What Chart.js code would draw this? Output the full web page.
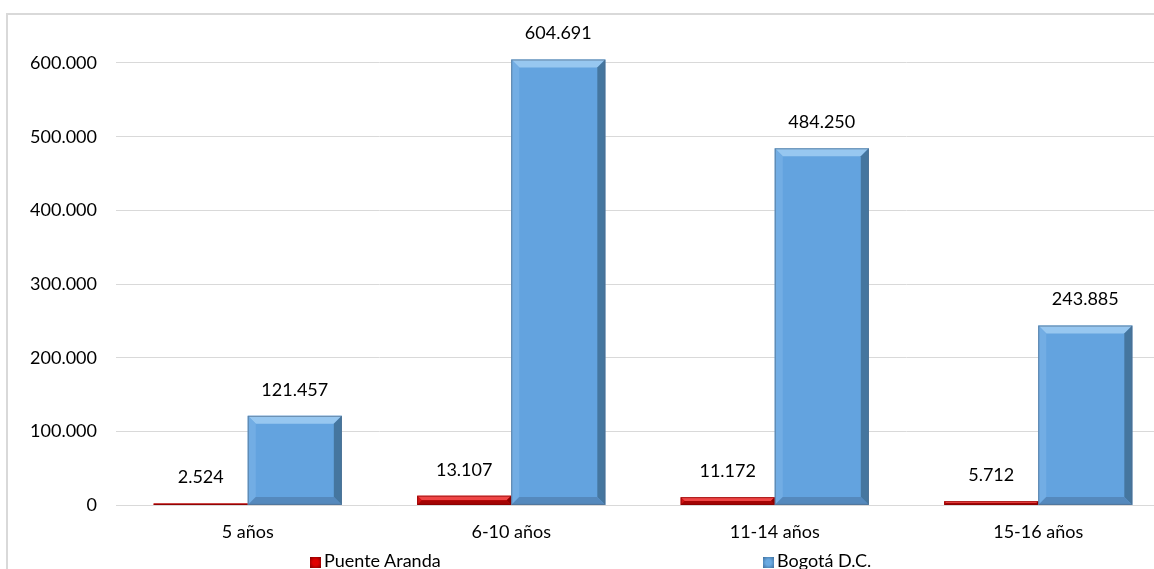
<!DOCTYPE html>
<html>

<head>
    <title>Puente Aranda vs Bogotá</title>
    <meta charset="utf-8">
    <style>
        html, body { margin: 0; padding: 0; overflow: hidden; background: #fff; width: 1154px; height: 569px; }
        .edge { position: absolute; background: #d9d9d9; }
        #wrap { position: absolute; left: 0; top: 0; width: 1180px; height: 569px; }
        .leg { position: absolute; top: 549px; font: 18px Lato, sans-serif; color: #000; white-space: nowrap; line-height: 22px; }
        .leg i { display: inline-block; width: 11px; height: 11px; margin-right: 3px; vertical-align: -1px; }
    </style>
</head>

<body>
    <div class="edge" style="left:6px;top:13px;width:1148px;height:2px"></div>
    <div class="edge" style="left:6px;top:13px;width:2px;height:556px"></div>
    <div id="wrap"><canvas id="myChart" width="1180" height="569"></canvas></div>
    <div class="leg" style="left:310px"><i style="background:radial-gradient(circle,#e00000 35%,#7a0000)"></i>Puente Aranda</div>
    <div class="leg" style="left:763px"><i style="background:radial-gradient(circle,#6aaae2 35%,#3d6e9c)"></i>Bogotá D.C.</div>

    <script src="https://cdn.jsdelivr.net/npm/chart.js"></script>
    <script>
        const categories = ["5 años", "6-10 años", "11-14 años", "15-16 años"];
        const seriesNames = ["Puente Aranda", "Bogotá D.C."];
        const puenteAranda = [2524, 13107, 11172, 5712];
        const bogota = [121457, 604691, 484250, 243885];
        const yTicks = [0, 100000, 200000, 300000, 400000, 500000, 600000];

        function fmt(v) {
            return String(v).replace(/\B(?=(\d{3})+(?!\d))/g, ".");
        }

        // bevel look of the excel bars
        const bevel = {
            id: "bevel",
            afterDatasetsDraw(chart) {
                const ctx = chart.ctx;
                chart.data.datasets.forEach((ds, i) => {
                    const c = ds.bevel;
                    chart.getDatasetMeta(i).data.forEach(bar => {
                        const l = bar.x - bar.width / 2, r = bar.x + bar.width / 2;
                        const t = Math.min(bar.y, bar.base), b = Math.max(bar.y, bar.base);
                        const e = Math.min(8, (b - t) / 2, (r - l) / 2);
                        const poly = (pts, col) => {
                            ctx.beginPath();
                            ctx.moveTo(pts[0][0], pts[0][1]);
                            pts.slice(1).forEach(p => ctx.lineTo(p[0], p[1]));
                            ctx.closePath();
                            ctx.fillStyle = col;
                            ctx.fill();
                        };
                        ctx.save();
                        poly([[l, t], [r, t], [r - e, t + e], [l + e, t + e]], c.top);
                        poly([[l, t], [l + e, t + e], [l + e, b - e], [l, b]], c.left);
                        poly([[r, t], [r, b], [r - e, b - e], [r - e, t + e]], c.right);
                        poly([[l, b], [l + e, b - e], [r - e, b - e], [r, b]], c.bottom);
                        ctx.strokeStyle = c.line;
                        ctx.lineWidth = 1;
                        ctx.strokeRect(l + 0.5, t + 0.5, r - l - 1, b - t - 1);
                        ctx.restore();
                    });
                });
            }
        };

        const valueLabels = {
            id: "valueLabels",
            afterDatasetsDraw(chart) {
                const ctx = chart.ctx;
                ctx.save();
                ctx.font = "18px Lato";
                ctx.fillStyle = "#000";
                ctx.textAlign = "center";
                ctx.textBaseline = "middle";
                chart.data.datasets.forEach((ds, i) => {
                    chart.getDatasetMeta(i).data.forEach((bar, j) => {
                        ctx.fillText(fmt(ds.data[j]), bar.x, bar.y - 26);
                    });
                });
                ctx.restore();
            }
        };

        const ctx = document.getElementById("myChart");

        let chart = new Chart(ctx, {
            type: "bar",
            data: {
                labels: categories,
                datasets: [{
                    label: seriesNames[0],
                    data: puenteAranda,
                    backgroundColor: "#dc0606",
                    bevel: { top: "#ef4545", left: "#d21414", right: "#8a0000", bottom: "#a40404", line: "rgba(120,0,0,0.6)" }
                }, {
                    label: seriesNames[1],
                    data: bogota,
                    backgroundColor: "#63a3df",
                    bevel: { top: "#97c7f0", left: "#72ade4", right: "#45769f", bottom: "#5589bd", line: "rgba(80,110,140,0.7)" }
                }]
            },
            options: {
                responsive: false,
                animation: false,
                layout: { padding: { top: 21, right: 10, bottom: 10, left: 0 } },
                datasets: {
                    bar: { barPercentage: 1, categoryPercentage: 0.714 }
                },
                plugins: {
                    legend: { display: false },
                    tooltip: { enabled: false }
                },
                scales: {
                    x: {
                        grid: { display: false, drawTicks: false },
                        border: { display: true, color: "#d9d9d9", width: 1 },
                        ticks: { padding: 16, color: "#000", font: { family: "Lato", size: 18 } }
                    },
                    y: {
                        min: 0,
                        max: 645000,
                        afterFit(scale) { scale.width = 116; },
                        afterBuildTicks(scale) { scale.ticks = yTicks.map(v => ({ value: v })); },
                        grid: { color: "#d9d9d9", drawTicks: false },
                        border: { display: false },
                        ticks: {
                            padding: 19,
                            color: "#000",
                            font: { family: "Lato", size: 18 },
                            callback: v => fmt(v)
                        }
                    }
                }
            },
            plugins: [bevel, valueLabels]
        });
    </script>
</body>

</html>
